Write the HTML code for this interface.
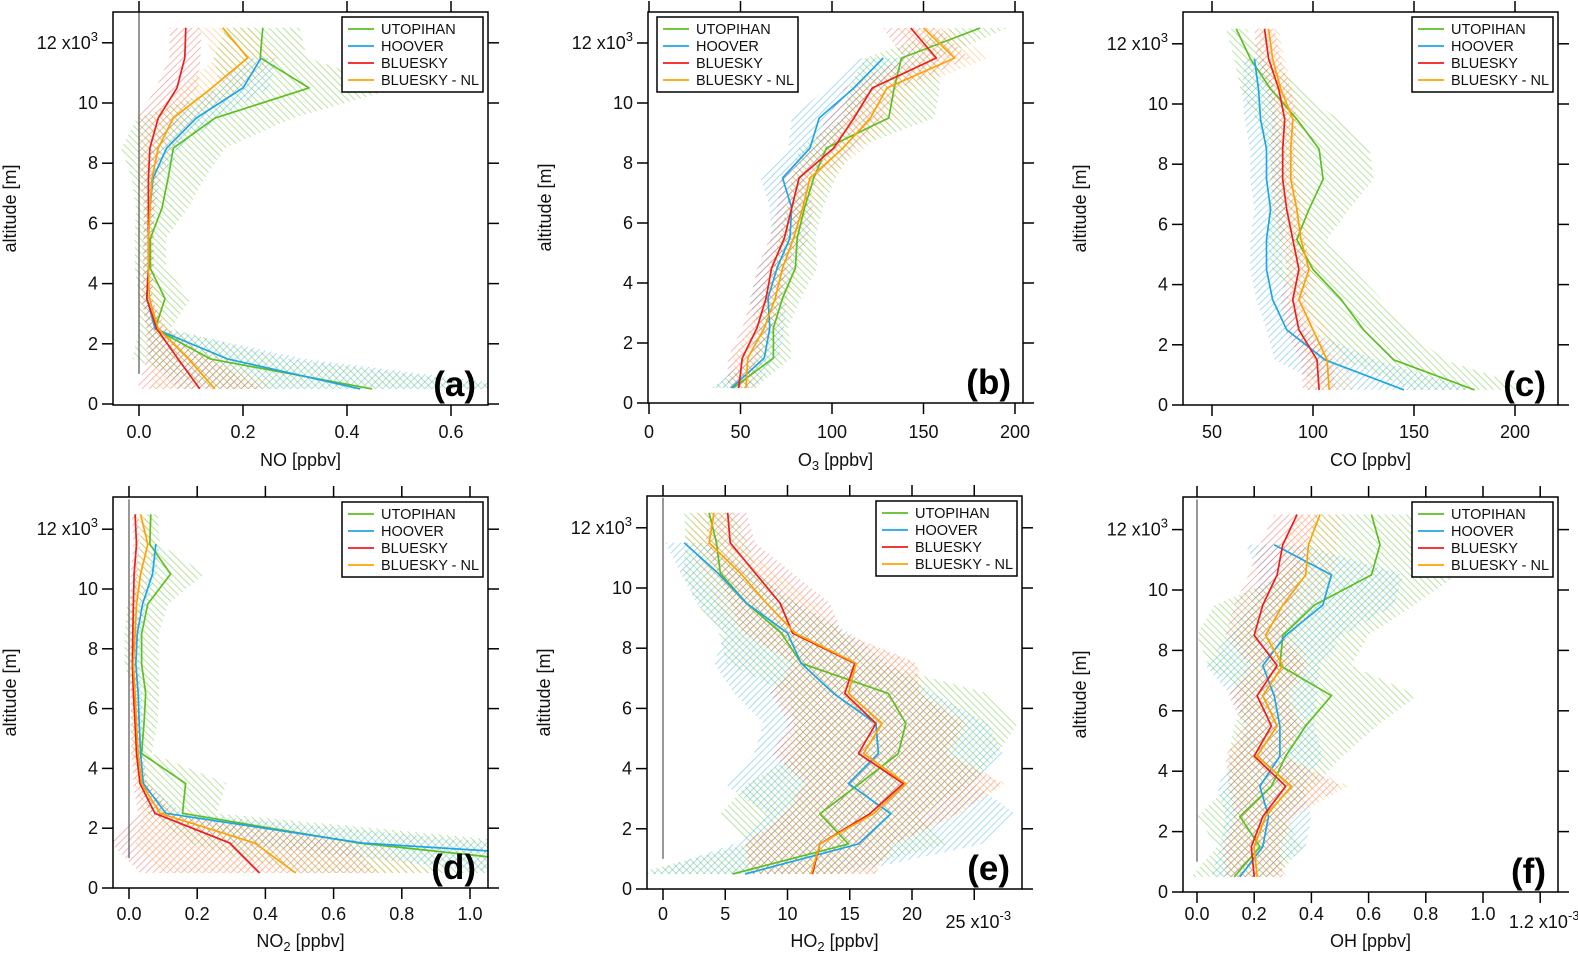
<!DOCTYPE html>
<html><head><meta charset="utf-8">
<style>
html,body{margin:0;padding:0;background:#fff;}
svg{display:block;font-family:"Liberation Sans",Arial,sans-serif;}
</style></head>
<body>
<svg id="fig" width="1578" height="958" viewBox="0 0 1578 958" xmlns="http://www.w3.org/2000/svg">
<defs>
  <pattern id="hatch-g" patternUnits="userSpaceOnUse" width="5" height="5" patternTransform="rotate(-45)"><line x1="0" y1="0" x2="0" y2="5" stroke="#6cc63a" stroke-width="1.6" stroke-opacity="0.6"/></pattern>
  <pattern id="hatch-b" patternUnits="userSpaceOnUse" width="5" height="5" patternTransform="rotate(45)"><line x1="0" y1="0" x2="0" y2="5" stroke="#39aee8" stroke-width="1.6" stroke-opacity="0.55"/></pattern>
  <pattern id="hatch-r" patternUnits="userSpaceOnUse" width="5" height="5" patternTransform="rotate(45)"><line x1="0" y1="0" x2="0" y2="5" stroke="#ee4b4b" stroke-width="1.6" stroke-opacity="0.5"/></pattern>
  <pattern id="hatch-o" patternUnits="userSpaceOnUse" width="5" height="5" patternTransform="rotate(-45)"><line x1="0" y1="0" x2="0" y2="5" stroke="#ffa630" stroke-width="1.6" stroke-opacity="0.5"/></pattern>
</defs>
</svg>
<script>
// altitude levels (km, x10^3 m)
const ALT = [12.5,11.5,10.5,9.5,8.5,7.5,6.5,5.5,4.5,3.5,2.5,1.5,0.5];
const SERIES_NAMES = ["UTOPIHAN","HOOVER","BLUESKY","BLUESKY - NL"];

// (a) NO
const NO_UTOP = [0.238,0.233,0.327,0.146,0.066,0.056,0.044,0.022,0.022,0.05,0.031,0.137,0.448];
const NO_UTOP_SD = [0.07,0.09,0.17,0.15,0.1,0.07,0.05,0.03,0.03,0.05,0.03,0.15,0.3];
const NO_HOOV = [null,0.235,0.2,0.11,0.053,0.027,0.021,0.018,0.018,0.015,0.031,0.17,0.425];
const NO_HOOV_SD = [null,0.03,0.05,0.04,0.03,0.015,0.01,0.01,0.01,0.01,0.015,0.15,0.35];
const NO_BLUE = [0.09,0.088,0.073,0.037,0.021,0.018,0.018,0.018,0.018,0.015,0.034,0.075,0.117];
const NO_BLUE_SD = [0.03,0.03,0.04,0.04,0.02,0.015,0.01,0.01,0.01,0.01,0.02,0.06,0.12];
const NO_NL = [0.161,0.209,0.14,0.066,0.037,0.025,0.021,0.018,0.018,0.02,0.037,0.095,0.146];
const NO_NL_SD = [0.05,0.06,0.06,0.04,0.03,0.015,0.01,0.01,0.01,0.02,0.02,0.07,0.12];

// (b) O3
const O3_UTOP = [181,138,134,131,97,90,85,81,80,73,68,68,46];
const O3_UTOP_SD = [15,20,25,25,15,12,10,10,12,10,8,10,12];
const O3_HOOV = [null,128,112,93,88,73,78,77,70,65,66,63,45];
const O3_HOOV_SD = [null,15,15,15,12,12,12,10,10,10,8,8,12];
const O3_BLUE = [143,157,122,112,101,82,78,74,67,64,59,51,49];
const O3_BLUE_SD = [15,18,15,15,12,10,8,8,8,8,8,8,6];
const O3_NL = [150,167,130,121,106,88,84,79,73,69,63,54,53];
const O3_NL_SD = [15,18,15,15,12,10,8,8,8,8,8,8,6];

// (c) CO
const CO_UTOP = [62,69,79,92,103,105,98,92,100,114,125,140,180];
const CO_UTOP_SD = [5,8,15,20,25,25,20,15,20,20,22,25,30];
const CO_HOOV = [null,71,73,74,77,77,79,77,77,80,87,106,145];
const CO_HOOV_SD = [null,5,8,8,8,8,8,8,8,8,10,25,35];
const CO_BLUE = [76,78,83,86,85,85,87,90,93,90,93,102,103];
const CO_BLUE_SD = [5,6,6,6,6,6,6,6,6,6,7,8,8];
const CO_NL = [78,80,84,90,89,89,92,94,98,93,100,107,108];
const CO_NL_SD = [5,6,6,6,6,6,6,6,6,6,7,10,12];

// (d) NO2
const NO2_UTOP = [0.064,0.061,0.122,0.055,0.037,0.037,0.049,0.044,0.037,0.166,0.157,0.676,1.5];
const NO2_UTOP_SD = [0.02,0.03,0.1,0.06,0.05,0.05,0.04,0.04,0.03,0.12,0.1,0.5,1.0];
const NO2_HOOV = [null,0.079,0.069,0.04,0.024,0.02,0.027,0.03,0.034,0.042,0.108,0.686,2.1];
const NO2_HOOV_SD = [null,0.01,0.01,0.01,0.01,0.01,0.01,0.01,0.01,0.01,0.05,0.4,1.0];
const NO2_BLUE = [0.018,0.022,0.015,0.013,0.011,0.01,0.013,0.018,0.022,0.032,0.076,0.296,0.383];
const NO2_BLUE_SD = [0.01,0.01,0.01,0.01,0.01,0.01,0.01,0.01,0.015,0.02,0.05,0.35,0.35];
const NO2_NL = [0.034,0.055,0.034,0.022,0.018,0.013,0.018,0.022,0.027,0.037,0.091,0.369,0.489];
const NO2_NL_SD = [0.02,0.02,0.02,0.015,0.01,0.01,0.01,0.01,0.015,0.02,0.05,0.35,0.4];

// (e) HO2 (x10^-3 ppbv)
const HO2_UTOP = [3.7,4.3,4.6,6.7,9.5,11.1,18.1,19.5,18.9,15.8,12.6,14.9,5.6];
const HO2_UTOP_SD = [2,2.5,3,4,5,6,8,9,8,9,8,8,8];
const HO2_HOOV = [null,1.7,4.4,6.7,10.0,11.1,13.7,17.1,17.3,14.9,18.3,15.7,6.6];
const HO2_HOOV_SD = [null,1.5,3,4,5,7,8,9,10,10,10,10,8];
const HO2_BLUE = [5.2,5.4,7.4,9.4,10.4,15.4,14.6,17.1,15.7,19.3,16.6,12.6,12.0];
const HO2_BLUE_SD = [1.5,2,3,4,4,5,6,7,7,8,7,6,5];
const HO2_NL = [4.1,3.7,6.2,8.3,10.6,15.5,14.9,17.6,16.1,19.5,16.9,12.6,11.9];
const HO2_NL_SD = [1.5,2,3,4,4,5,6,7,7,8,7,6,5];

// (f) OH (x10^-3 ppbv)
const OH_UTOP = [0.61,0.64,0.61,0.41,0.30,0.29,0.47,0.38,0.31,0.26,0.15,0.22,0.13];
const OH_UTOP_SD = [0.2,0.25,0.3,0.35,0.3,0.25,0.3,0.25,0.2,0.15,0.15,0.15,0.15];
const OH_HOOV = [null,0.27,0.47,0.44,0.31,0.23,0.27,0.29,0.29,0.22,0.25,0.23,0.15];
const OH_HOOV_SD = [null,0.1,0.25,0.25,0.2,0.2,0.15,0.12,0.15,0.15,0.15,0.15,0.1];
const OH_BLUE = [0.35,0.30,0.28,0.23,0.20,0.28,0.21,0.26,0.20,0.31,0.23,0.19,0.20];
const OH_BLUE_SD = [0.08,0.08,0.1,0.1,0.1,0.1,0.1,0.1,0.1,0.2,0.1,0.1,0.1];
const OH_NL = [0.43,0.39,0.38,0.30,0.24,0.30,0.23,0.28,0.21,0.33,0.24,0.20,0.21];
const OH_NL_SD = [0.08,0.1,0.1,0.1,0.1,0.1,0.1,0.1,0.1,0.2,0.1,0.1,0.1];

// tick values
const TICKS_A = [0,0.2,0.4,0.6];
const TICKS_B = [0,50,100,150,200];
const TICKS_C = [50,100,150,200];
const TICKS_D = [0,0.2,0.4,0.6,0.8,1.0];
const TICKS_E = [0,5,10,15,20,25];
const TICKS_F = [0,0.2,0.4,0.6,0.8,1.0,1.2];
const YTICKS = [0,2,4,6,8,10,12];

const COLORS = ["#5cbf22","#1ea6e8","#f21c1c","#ffa200"];
const HATCH = ["url(#hatch-g)","url(#hatch-b)","url(#hatch-r)","url(#hatch-o)"];
const KEYS = ["utopihan","hoover","bluesky","bluesky-nl"];

const NS = "http://www.w3.org/2000/svg";
const svg = document.getElementById("fig");
function mk(tag, attrs, parent){
  const e = document.createElementNS(NS, tag);
  for (const k in attrs) e.setAttribute(k, attrs[k]);
  (parent||svg).appendChild(e);
  return e;
}

const panels = [
  {id:"a", L:113,R:488,T:12,B:405, x0:139, kx:520, y0:404, ky:30.1, ticks:TICKS_A, fmt:v=>v.toFixed(1), title:"NO [ppbv]", sub:null, exp:null,
   means:[NO_UTOP,NO_HOOV,NO_BLUE,NO_NL], sds:[NO_UTOP_SD,NO_HOOV_SD,NO_BLUE_SD,NO_NL_SD], legLeft:false, zero:true, tickY:438, titleY:466},
  {id:"b", L:648,R:1023,T:12,B:403, x0:649, kx:1.83, y0:403, ky:30.0, ticks:TICKS_B, fmt:v=>String(v), title:"O", sub:"3", exp:null,
   means:[O3_UTOP,O3_HOOV,O3_BLUE,O3_NL], sds:[O3_UTOP_SD,O3_HOOV_SD,O3_BLUE_SD,O3_NL_SD], legLeft:true, zero:false, tickY:438, titleY:466},
  {id:"c", L:1183,R:1558,T:12,B:405, x0:1111, kx:2.02, y0:405, ky:30.1, ticks:TICKS_C, fmt:v=>String(v), title:"CO [ppbv]", sub:null, exp:null,
   means:[CO_UTOP,CO_HOOV,CO_BLUE,CO_NL], sds:[CO_UTOP_SD,CO_HOOV_SD,CO_BLUE_SD,CO_NL_SD], legLeft:false, zero:false, tickY:438, titleY:466},
  {id:"d", L:113,R:488,T:497,B:888, x0:129, kx:341, y0:888, ky:29.9, ticks:TICKS_D, fmt:v=>v.toFixed(1), title:"NO", sub:"2", exp:null,
   means:[NO2_UTOP,NO2_HOOV,NO2_BLUE,NO2_NL], sds:[NO2_UTOP_SD,NO2_HOOV_SD,NO2_BLUE_SD,NO2_NL_SD], legLeft:false, zero:true, tickY:920, titleY:947},
  {id:"e", L:647,R:1022,T:496,B:889, x0:663, kx:12.45, y0:889, ky:30.1, ticks:TICKS_E, fmt:v=>String(v), title:"HO", sub:"2", exp:25,
   means:[HO2_UTOP,HO2_HOOV,HO2_BLUE,HO2_NL], sds:[HO2_UTOP_SD,HO2_HOOV_SD,HO2_BLUE_SD,HO2_NL_SD], legLeft:false, zero:true, tickY:920, titleY:947},
  {id:"f", L:1183,R:1558,T:497,B:892, x0:1197, kx:286, y0:892, ky:30.2, ticks:TICKS_F, fmt:v=>v.toFixed(1), title:"OH [ppbv]", sub:null, exp:1.2,
   means:[OH_UTOP,OH_HOOV,OH_BLUE,OH_NL], sds:[OH_UTOP_SD,OH_HOOV_SD,OH_BLUE_SD,OH_NL_SD], legLeft:false, zero:true, tickY:920, titleY:947}
];

panels.forEach(p => {
  const xs = v => p.x0 + v*p.kx;
  const ys = a => p.y0 - a*p.ky;
  const g = mk("g", {});
  
  

  const clip = mk("clipPath", {id:"clip-"+p.id}, g);
  mk("rect", {x:p.L, y:p.T, width:p.R-p.L, height:p.B-p.T}, clip);
  const plot = mk("g", {"clip-path":"url(#clip-"+p.id+")"}, g);
  
  

  p.means.forEach((m, si) => {
    const sd = p.sds[si];
    const left = [], right = [];
    ALT.forEach((a, i) => {
      if (m[i] === null) return;
      left.push(xs(m[i]-sd[i]).toFixed(1)+","+ys(a).toFixed(1));
      right.push(xs(m[i]+sd[i]).toFixed(1)+","+ys(a).toFixed(1));
    });
    const poly = mk("polygon", {points:left.concat(right.reverse()).join(" "), fill:HATCH[si], stroke:"none"}, plot);
    
    
  });
  if (p.zero) {
    const zl = mk("line", {x1:xs(0), x2:xs(0), y1:ys(13.0), y2:ys(1.0), stroke:"#555", "stroke-width":1.2}, plot);
    
    
  }
  p.means.forEach((m, si) => {
    const pts = [];
    ALT.forEach((a, i) => { if (m[i] !== null) pts.push(xs(m[i]).toFixed(1)+","+ys(a).toFixed(1)); });
    const pl = mk("polyline", {points:pts.join(" "), fill:"none", stroke:COLORS[si], "stroke-width":1.7, "stroke-linejoin":"round"}, plot);
    
    
  });

  const fr = mk("rect", {x:p.L, y:p.T, width:p.R-p.L, height:p.B-p.T, fill:"none", stroke:"#000", "stroke-width":1.5}, g);
  
  

  p.ticks.forEach(v => {
    const x = xs(v);
    mk("line", {x1:x, x2:x, y1:p.B, y2:p.B+11, stroke:"#000", "stroke-width":1.5}, g);
    mk("line", {x1:x, x2:x, y1:p.T, y2:p.T-11, stroke:"#000", "stroke-width":1.5}, g);
    let t;
    if (p.exp !== null && v === p.exp) {
      t = mk("text", {x:x+4, y:p.tickY+8, "text-anchor":"middle", "font-size":18, fill:"#111"}, g);
      t.textContent = p.fmt(v) + " x10";
      const sp = mk("tspan", {dy:-8, "font-size":13}, t);
      sp.textContent = "-3";
    } else {
      t = mk("text", {x:x, y:p.tickY, "text-anchor":"middle", "font-size":18, fill:"#111"}, g);
      t.textContent = p.fmt(v);
    }
    
    
  });
  const xt = mk("text", {x:(p.L+p.R)/2, y:p.titleY, "text-anchor":"middle", "font-size":18, fill:"#111"}, g);
  
  
  if (p.sub) {
    xt.textContent = p.title;
    const s = mk("tspan", {dy:4, "font-size":13}, xt); s.textContent = p.sub;
    const r = mk("tspan", {dy:-4}, xt); r.textContent = " [ppbv]";
  } else xt.textContent = p.title;

  YTICKS.forEach(a => {
    const y = ys(a);
    mk("line", {x1:p.L, x2:p.L-11, y1:y, y2:y, stroke:"#000", "stroke-width":1.5}, g);
    mk("line", {x1:p.R, x2:p.R+11, y1:y, y2:y, stroke:"#000", "stroke-width":1.5}, g);
    const t = mk("text", {x:p.L-15, y:y+6, "text-anchor":"end", "font-size":18, fill:"#111"}, g);
    
    
    if (a === 12) {
      t.textContent = "12 x10";
      const sp = mk("tspan", {dy:-8, "font-size":13}, t); sp.textContent = "3";
    } else t.textContent = String(a);
  });
  const cy = (p.T+p.B)/2;
  const yt = mk("text", {x:p.L-97, y:cy, "text-anchor":"middle", "font-size":18, fill:"#111", transform:"rotate(-90 "+(p.L-97)+" "+cy+")"}, g);
  
  
  yt.textContent = "altitude [m]";

  const lw = 141, lh = 75;
  const lx = p.legLeft ? p.L+9 : p.R-5-lw;
  const ly = p.T+5;
  const lg = mk("g", {}, g);
  
  
  mk("rect", {x:lx, y:ly, width:lw, height:lh, fill:"#fff", stroke:"#000", "stroke-width":1.5}, lg);
  SERIES_NAMES.forEach((n, i) => {
    const yy = ly + 12 + i*17;
    const e = mk("g", {}, lg);
    
    
    mk("line", {x1:lx+6, x2:lx+32, y1:yy, y2:yy, stroke:COLORS[i], "stroke-width":1.8}, e);
    const t = mk("text", {x:lx+39, y:yy+5, "font-size":14.5, fill:"#111"}, e);
    t.textContent = n;
  });

  const pl = mk("text", {x:p.R-12, y:p.B-9, "text-anchor":"end", "font-size":35, "font-weight":"bold", fill:"#000"}, g);
  
  
  pl.textContent = "(" + p.id + ")";
});
</script>
</body></html>
